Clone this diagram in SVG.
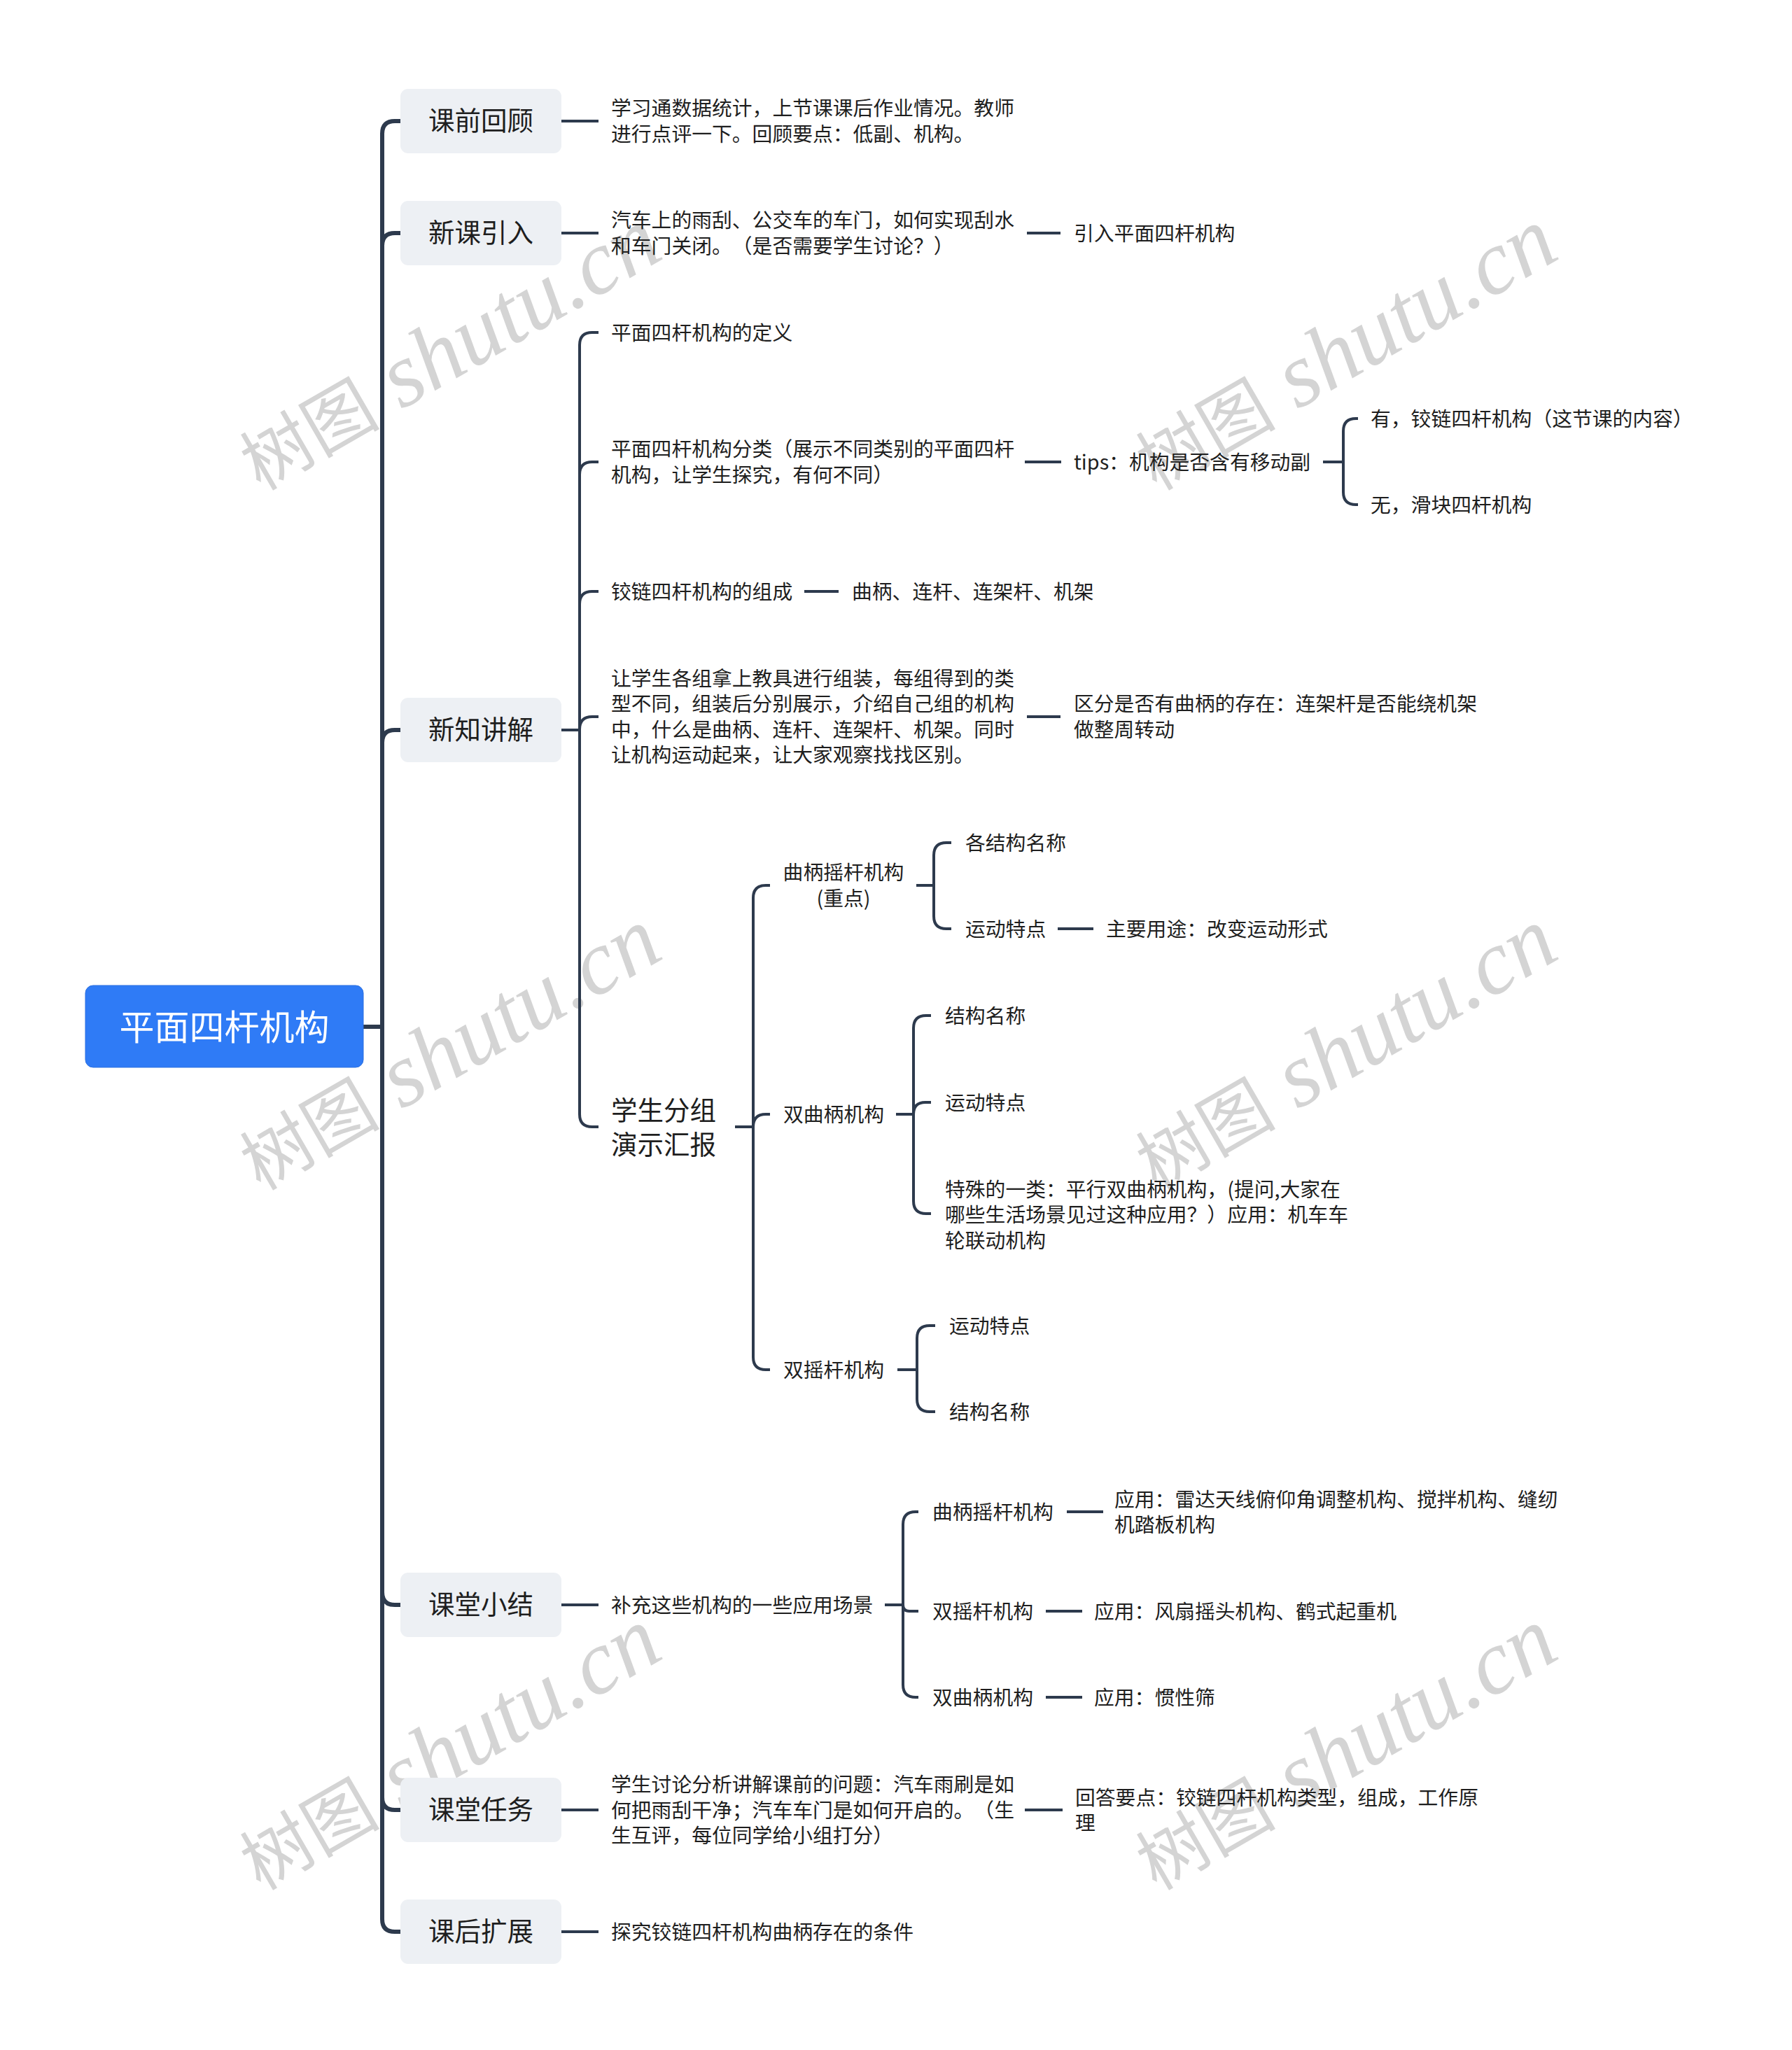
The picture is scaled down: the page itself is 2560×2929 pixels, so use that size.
<svg xmlns="http://www.w3.org/2000/svg" width="2560" height="2929" viewBox="0 0 2560 2929">
<style>
text{font-family:"Noto Sans CJK SC","Noto Sans",sans-serif;dominant-baseline:central;fill:#1e1e1e;text-spacing-trim:space-all}
.t2{font-size:28.8px;transform:translateY(-2px)}
.t1{font-size:37.5px;text-anchor:middle;transform:translateY(-3.5px)}
.big{font-size:37.5px;transform:translateY(-2px)}
.root{font-size:50px;fill:#ffffff;text-anchor:middle;transform:translateY(-3.5px)}
.box1{fill:#edf0f4}
.main{fill:none;stroke:#2d3a4d;stroke-width:6;stroke-linecap:butt}
.sub{fill:none;stroke:#2d3a4d;stroke-width:4;stroke-linecap:butt}
.wm{fill:#d4d4d4;dominant-baseline:alphabetic}
.wmc{font-family:"Noto Sans CJK SC",serif;font-size:100px}
.wml{font-family:"Liberation Serif",serif;font-style:italic;font-size:130px}
</style>
<rect x="0" y="0" width="2560" height="2929" fill="#ffffff"/>
<g id="watermarks">
<text class="wm" transform="translate(372,702) rotate(-30)"><tspan class="wmc">树图</tspan><tspan class="wml"> shutu.cn</tspan></text>
<text class="wm" transform="translate(1652,702) rotate(-30)"><tspan class="wmc">树图</tspan><tspan class="wml"> shutu.cn</tspan></text>
<text class="wm" transform="translate(372,1702) rotate(-30)"><tspan class="wmc">树图</tspan><tspan class="wml"> shutu.cn</tspan></text>
<text class="wm" transform="translate(1652,1702) rotate(-30)"><tspan class="wmc">树图</tspan><tspan class="wml"> shutu.cn</tspan></text>
<text class="wm" transform="translate(372,2702) rotate(-30)"><tspan class="wmc">树图</tspan><tspan class="wml"> shutu.cn</tspan></text>
<text class="wm" transform="translate(1652,2702) rotate(-30)"><tspan class="wmc">树图</tspan><tspan class="wml"> shutu.cn</tspan></text>
</g>
<g id="connectors">
<path class="main" d="M519 1467 H546"/>
<path class="main" d="M546 1467 V191 Q546 173 564 173 H572"/>
<path class="main" d="M546 1467 V351 Q546 333 564 333 H572"/>
<path class="main" d="M546 1467 V1061 Q546 1043 564 1043 H572"/>
<path class="main" d="M546 1467 V2275 Q546 2293 564 2293 H572"/>
<path class="main" d="M546 1467 V2568 Q546 2586 564 2586 H572"/>
<path class="main" d="M546 1467 V2742 Q546 2760 564 2760 H572"/>
<path class="sub" d="M802 173 H855"/>
<path class="sub" d="M802 333 H855"/>
<path class="sub" d="M1467 333 H1515"/>
<path class="sub" d="M802 1043 H828"/>
<path class="sub" d="M828 1043 V493 Q828 475 846 475 H855"/>
<path class="sub" d="M828 1043 V678 Q828 660 846 660 H855"/>
<path class="sub" d="M828 1043 V863 Q828 845 846 845 H855"/>
<path class="sub" d="M828 1043 V1042 Q828 1024 846 1024 H855"/>
<path class="sub" d="M828 1043 V1592 Q828 1610 846 1610 H855"/>
<path class="sub" d="M1464 660 H1516"/>
<path class="sub" d="M1890 660 H1919"/>
<path class="sub" d="M1919 660 V616 Q1919 598 1937 598 H1940"/>
<path class="sub" d="M1919 660 V703 Q1919 721 1937 721 H1940"/>
<path class="sub" d="M1149 845 H1198"/>
<path class="sub" d="M1467 1024 H1515"/>
<path class="sub" d="M1050 1610 H1076"/>
<path class="sub" d="M1076 1610 V1283 Q1076 1265 1094 1265 H1100"/>
<path class="sub" d="M1076 1610 Q1076 1592 1094 1592 H1100"/>
<path class="sub" d="M1076 1610 V1939 Q1076 1957 1094 1957 H1100"/>
<path class="sub" d="M1309 1265 H1334"/>
<path class="sub" d="M1334 1265 V1222 Q1334 1204 1352 1204 H1359"/>
<path class="sub" d="M1334 1265 V1309 Q1334 1327 1352 1327 H1359"/>
<path class="sub" d="M1511 1327 H1562"/>
<path class="sub" d="M1280 1592 H1305"/>
<path class="sub" d="M1305 1592 V1469 Q1305 1451 1323 1451 H1330"/>
<path class="sub" d="M1305 1592 Q1305 1575 1322 1575 H1330"/>
<path class="sub" d="M1305 1592 V1716 Q1305 1734 1323 1734 H1330"/>
<path class="sub" d="M1282 1957 H1310"/>
<path class="sub" d="M1310 1957 V1912 Q1310 1894 1328 1894 H1336"/>
<path class="sub" d="M1310 1957 V1999 Q1310 2017 1328 2017 H1336"/>
<path class="sub" d="M802 2293 H855"/>
<path class="sub" d="M1264 2293 H1290"/>
<path class="sub" d="M1290 2293 V2178 Q1290 2160 1308 2160 H1312"/>
<path class="sub" d="M1290 2293 Q1290 2302 1299 2302 H1312"/>
<path class="sub" d="M1290 2293 V2407 Q1290 2425 1308 2425 H1312"/>
<path class="sub" d="M1524 2160 H1576"/>
<path class="sub" d="M1494 2302 H1546"/>
<path class="sub" d="M1494 2425 H1546"/>
<path class="sub" d="M802 2586 H855"/>
<path class="sub" d="M1464 2586 H1518"/>
<path class="sub" d="M802 2760 H855"/>
</g>
<g id="root">
<rect x="122" y="1408" width="397" height="117" rx="11" fill="#2f7bf6" stroke="#2a6fe0" stroke-width="1"/>
<text class="root" x="320.5" y="1467">平面四杆机构</text>
</g>
<g id="n-kqhg">
<rect class="box1" x="572" y="127" width="230" height="92" rx="11"/>
<text class="t1" x="687" y="173">课前回顾</text>
</g>
<g id="n-kqhg-1">
<text class="t2" x="873" y="154.75">学习通数据统计，上节课课后作业情况。教师</text>
<text class="t2" x="873" y="191.25">进行点评一下。回顾要点：低副、机构。</text>
</g>
<g id="n-xkyr">
<rect class="box1" x="572" y="287" width="230" height="92" rx="11"/>
<text class="t1" x="687" y="333">新课引入</text>
</g>
<g id="n-xkyr-1">
<text class="t2" x="873" y="314.75">汽车上的雨刮、公交车的车门，如何实现刮水</text>
<text class="t2" x="873" y="351.25">和车门关闭。（是否需要学生讨论？）</text>
</g>
<g id="n-xkyr-2"><text class="t2" x="1534" y="333">引入平面四杆机构</text></g>
<g id="n-xzjj">
<rect class="box1" x="572" y="997" width="230" height="92" rx="11"/>
<text class="t1" x="687" y="1043">新知讲解</text>
</g>
<g id="n-dy"><text class="t2" x="873" y="475">平面四杆机构的定义</text></g>
<g id="n-fl">
<text class="t2" x="873" y="641.75">平面四杆机构分类（展示不同类别的平面四杆</text>
<text class="t2" x="873" y="678.25">机构，让学生探究，有何不同）</text>
</g>
<g id="n-tips"><text class="t2" x="1534" y="660">tips：机构是否含有移动副</text></g>
<g id="n-you"><text class="t2" x="1958" y="598">有，铰链四杆机构（这节课的内容）</text></g>
<g id="n-wu"><text class="t2" x="1958" y="721">无，滑块四杆机构</text></g>
<g id="n-zc"><text class="t2" x="873" y="845">铰链四杆机构的组成</text></g>
<g id="n-zc-1"><text class="t2" x="1217" y="845">曲柄、连杆、连架杆、机架</text></g>
<g id="n-zz">
<text class="t2" x="873" y="969.25">让学生各组拿上教具进行组装，每组得到的类</text>
<text class="t2" x="873" y="1005.75">型不同，组装后分别展示，介绍自己组的机构</text>
<text class="t2" x="873" y="1042.25">中，什么是曲柄、连杆、连架杆、机架。同时</text>
<text class="t2" x="873" y="1078.75">让机构运动起来，让大家观察找找区别。</text>
</g>
<g id="n-qf">
<text class="t2" x="1534" y="1005.75">区分是否有曲柄的存在：连架杆是否能绕机架</text>
<text class="t2" x="1534" y="1042.25">做整周转动</text>
</g>
<g id="n-xsfz">
<text class="big" x="873" y="1585.5">学生分组</text>
<text class="big" x="873" y="1634.5">演示汇报</text>
</g>
<g id="n-qbyg">
<text class="t2" x="1205" y="1246.5" text-anchor="middle">曲柄摇杆机构</text>
<text class="t2" x="1205" y="1283.5" text-anchor="middle">(重点)</text>
</g>
<g id="n-qbyg-1"><text class="t2" x="1379" y="1204">各结构名称</text></g>
<g id="n-qbyg-2"><text class="t2" x="1379" y="1327">运动特点</text></g>
<g id="n-qbyg-3"><text class="t2" x="1580" y="1327">主要用途：改变运动形式</text></g>
<g id="n-sqb"><text class="t2" x="1119" y="1592">双曲柄机构</text></g>
<g id="n-sqb-1"><text class="t2" x="1350" y="1451">结构名称</text></g>
<g id="n-sqb-2"><text class="t2" x="1350" y="1575">运动特点</text></g>
<g id="n-sqb-3">
<text class="t2" x="1350" y="1699">特殊的一类：平行双曲柄机构，(提问,大家在</text>
<text class="t2" x="1350" y="1735.5">哪些生活场景见过这种应用？）应用：机车车</text>
<text class="t2" x="1350" y="1772">轮联动机构</text>
</g>
<g id="n-syg"><text class="t2" x="1119" y="1957">双摇杆机构</text></g>
<g id="n-syg-1"><text class="t2" x="1356" y="1894">运动特点</text></g>
<g id="n-syg-2"><text class="t2" x="1356" y="2017">结构名称</text></g>
<g id="n-ktxj">
<rect class="box1" x="572" y="2247" width="230" height="92" rx="11"/>
<text class="t1" x="687" y="2293">课堂小结</text>
</g>
<g id="n-bc"><text class="t2" x="873" y="2293">补充这些机构的一些应用场景</text></g>
<g id="n-bc-1"><text class="t2" x="1332" y="2160">曲柄摇杆机构</text></g>
<g id="n-bc-1a">
<text class="t2" x="1592" y="2142">应用：雷达天线俯仰角调整机构、搅拌机构、缝纫</text>
<text class="t2" x="1592" y="2178.5">机踏板机构</text>
</g>
<g id="n-bc-2"><text class="t2" x="1332" y="2302">双摇杆机构</text></g>
<g id="n-bc-2a"><text class="t2" x="1563" y="2302">应用：风扇摇头机构、鹤式起重机</text></g>
<g id="n-bc-3"><text class="t2" x="1332" y="2425">双曲柄机构</text></g>
<g id="n-bc-3a"><text class="t2" x="1563" y="2425">应用：惯性筛</text></g>
<g id="n-ktrw">
<rect class="box1" x="572" y="2540" width="230" height="92" rx="11"/>
<text class="t1" x="687" y="2586">课堂任务</text>
</g>
<g id="n-ktrw-1">
<text class="t2" x="873" y="2549.5">学生讨论分析讲解课前的问题：汽车雨刷是如</text>
<text class="t2" x="873" y="2586">何把雨刮干净；汽车车门是如何开启的。（生</text>
<text class="t2" x="873" y="2622.5">生互评，每位同学给小组打分）</text>
</g>
<g id="n-ktrw-2">
<text class="t2" x="1536" y="2568">回答要点：铰链四杆机构类型，组成，工作原</text>
<text class="t2" x="1536" y="2604.5">理</text>
</g>
<g id="n-khkz">
<rect class="box1" x="572" y="2714" width="230" height="92" rx="11"/>
<text class="t1" x="687" y="2760">课后扩展</text>
</g>
<g id="n-khkz-1"><text class="t2" x="873" y="2760">探究铰链四杆机构曲柄存在的条件</text></g>
</svg>
